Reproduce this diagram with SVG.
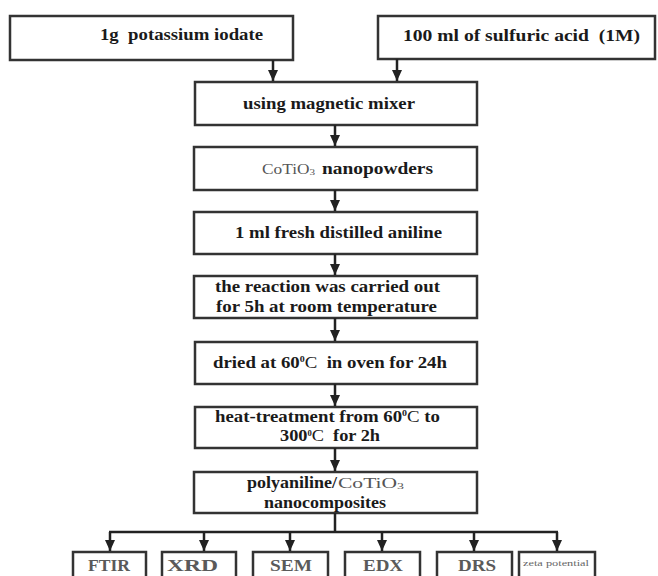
<svg xmlns="http://www.w3.org/2000/svg" width="658" height="576" viewBox="0 0 658 576">
<defs>
<marker id="ah" markerUnits="userSpaceOnUse" markerWidth="12" markerHeight="10" refX="11" refY="5" orient="auto">
<path d="M0,0 L11,5 L0,10 Z" fill="#222"/>
</marker>
<style>
.box{fill:#fff;stroke:#333;stroke-width:2.5}
.t{font-family:"Liberation Serif","Times New Roman",serif;font-weight:bold;font-size:17px;fill:#1a1a1a}
.s{font-family:"Liberation Serif","Times New Roman",serif;font-weight:normal;font-size:14px;fill:#555}
.b{font-family:"Liberation Serif","Times New Roman",serif;font-weight:bold;font-size:17px;fill:#5a5a5a}
.c{fill:none;stroke:#222;stroke-width:2.5}
</style>
</defs>
<rect width="658" height="576" fill="#fff"/>
<g id="n1"><rect class="box" x="10" y="16" width="283" height="44"/><text class="t" x="100" y="40" textLength="163" lengthAdjust="spacingAndGlyphs" xml:space="preserve">1g  potassium iodate</text></g>
<g id="n2"><rect class="box" x="378" y="16" width="277" height="43"/><text class="t" x="403" y="41" textLength="237" lengthAdjust="spacingAndGlyphs" xml:space="preserve">100 ml of sulfuric acid  (1M)</text></g>
<g id="n3"><rect class="box" x="195" y="82" width="282" height="43"/><text class="t" x="243" y="109" textLength="172" lengthAdjust="spacingAndGlyphs">using magnetic mixer</text></g>
<g id="n4"><rect class="box" x="194" y="147" width="283" height="43"/><text class="s" x="262" y="174" textLength="53" lengthAdjust="spacingAndGlyphs">CoTiO<tspan font-size="9" dy="1">3</tspan></text><text class="t" x="322" y="174" textLength="111" lengthAdjust="spacingAndGlyphs">nanopowders</text></g>
<g id="n5"><rect class="box" x="194" y="212" width="283" height="42"/><text class="t" x="235" y="238" textLength="207" lengthAdjust="spacingAndGlyphs">1 ml fresh distilled aniline</text></g>
<g id="n6"><rect class="box" x="194" y="276" width="283" height="42"/><text class="t" x="215" y="292" textLength="225" lengthAdjust="spacingAndGlyphs">the reaction was carried out</text><text class="t" x="216" y="312" textLength="221" lengthAdjust="spacingAndGlyphs">for 5h at room temperature</text></g>
<g id="n7"><rect class="box" x="195" y="342" width="282" height="42"/><text class="t" x="213" y="368" textLength="234" lengthAdjust="spacingAndGlyphs" xml:space="preserve">dried at 60<tspan font-size="9" dy="-6">0</tspan><tspan dy="6" font-weight="normal">C  </tspan>in oven for 24h</text></g>
<g id="n8"><rect class="box" x="195" y="407" width="282" height="41"/><text class="t" x="215" y="422" font-size="16" textLength="225" lengthAdjust="spacingAndGlyphs">heat-treatment from 60<tspan font-size="9" dy="-6">0</tspan><tspan dy="6" font-weight="normal">C</tspan> to</text><text class="t" x="280" y="441" font-size="16" textLength="100" lengthAdjust="spacingAndGlyphs" xml:space="preserve">300<tspan font-size="8" dy="-5">0</tspan><tspan dy="5" font-weight="normal">C </tspan> for 2h</text></g>
<g id="n9"><rect class="box" x="194" y="472" width="283" height="41"/><text class="t" x="247" y="488" textLength="90" lengthAdjust="spacingAndGlyphs">polyaniline/</text><text class="s" x="338" y="488" textLength="66" lengthAdjust="spacingAndGlyphs">CoTiO<tspan font-size="9" dy="1">3</tspan></text><text class="t" x="264" y="508" textLength="122" lengthAdjust="spacingAndGlyphs">nanocomposites</text></g>
<g id="n10"><rect class="box" x="73" y="552" width="73" height="30"/><text class="b" x="88" y="571" textLength="42" lengthAdjust="spacingAndGlyphs">FTIR</text></g>
<g id="n11"><rect class="box" x="162" y="552" width="74" height="30"/><text class="b" x="167" y="571" textLength="51" lengthAdjust="spacingAndGlyphs">XRD</text></g>
<g id="n12"><rect class="box" x="253" y="552" width="75" height="30"/><text class="b" x="270" y="571" textLength="42" lengthAdjust="spacingAndGlyphs">SEM</text></g>
<g id="n13"><rect class="box" x="345" y="552" width="75" height="30"/><text class="b" x="363" y="571" textLength="40" lengthAdjust="spacingAndGlyphs">EDX</text></g>
<g id="n14"><rect class="box" x="437" y="552" width="75" height="30"/><text class="b" x="458" y="571" textLength="38" lengthAdjust="spacingAndGlyphs">DRS</text></g>
<g id="n15"><rect class="box" x="519" y="552" width="76" height="30"/><text x="523" y="566" font-family="Liberation Serif, serif" font-size="8" fill="#666" textLength="66" lengthAdjust="spacingAndGlyphs">zeta potential</text></g>
<g id="connectors">
<line class="c" x1="273" y1="60" x2="273" y2="81" marker-end="url(#ah)"/>
<line class="c" x1="397" y1="59" x2="397" y2="81" marker-end="url(#ah)"/>
<line class="c" x1="335" y1="125" x2="335" y2="146" marker-end="url(#ah)"/>
<line class="c" x1="335" y1="190" x2="335" y2="211" marker-end="url(#ah)"/>
<line class="c" x1="335" y1="254" x2="335" y2="275" marker-end="url(#ah)"/>
<line class="c" x1="335" y1="318" x2="335" y2="341" marker-end="url(#ah)"/>
<line class="c" x1="335" y1="384" x2="335" y2="406" marker-end="url(#ah)"/>
<line class="c" x1="335" y1="448" x2="335" y2="471" marker-end="url(#ah)"/>
<line class="c" x1="335" y1="513" x2="335" y2="532"/>
<line class="c" x1="109" y1="532" x2="558" y2="532"/>
<line class="c" x1="110" y1="532" x2="110" y2="551" marker-end="url(#ah)"/>
<line class="c" x1="204" y1="532" x2="204" y2="551" marker-end="url(#ah)"/>
<line class="c" x1="290" y1="532" x2="290" y2="551" marker-end="url(#ah)"/>
<line class="c" x1="382" y1="532" x2="382" y2="551" marker-end="url(#ah)"/>
<line class="c" x1="474" y1="532" x2="474" y2="551" marker-end="url(#ah)"/>
<line class="c" x1="557" y1="532" x2="557" y2="551" marker-end="url(#ah)"/>
</g>
</svg>
